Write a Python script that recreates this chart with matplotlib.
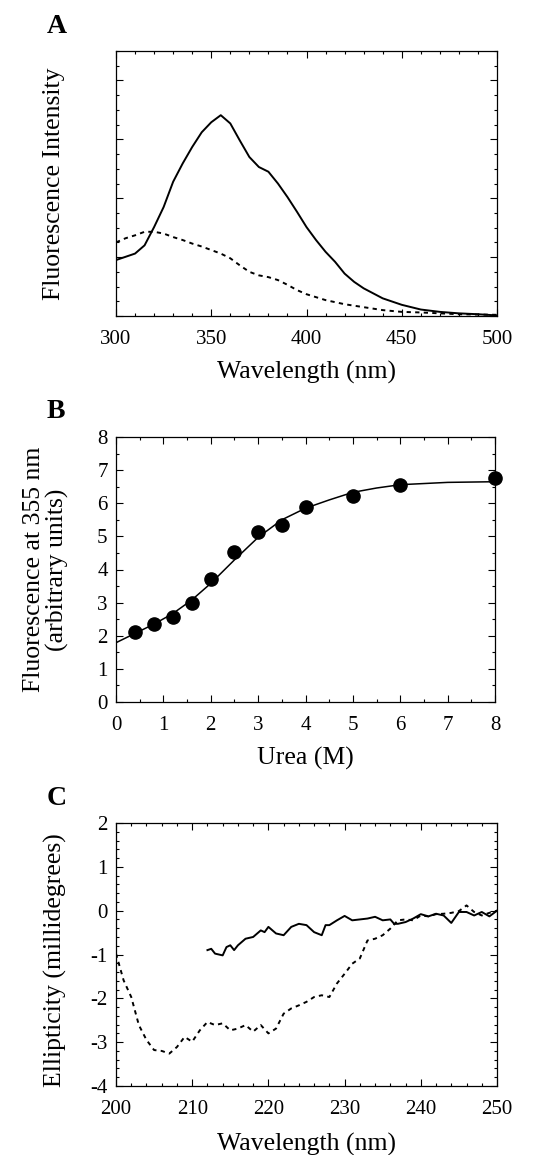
import matplotlib
matplotlib.use("Agg")
import matplotlib.pyplot as plt
from matplotlib.ticker import MultipleLocator

plt.rcParams['font.family'] = ['Liberation Serif', 'DejaVu Serif']
plt.rcParams['mathtext.fontset'] = 'stix'

# ---- panel A: emission spectra ----
a_wl_native = [300, 310, 315, 320, 325, 330, 335, 340, 345, 350, 355, 360, 365, 370,
               375, 380, 385, 390, 395, 400, 405, 410, 415, 420, 425, 430, 440, 450,
               460, 470, 480, 490, 500]
a_native = [0.95, 1.06, 1.2, 1.51, 1.85, 2.28, 2.59, 2.87, 3.12, 3.29, 3.41, 3.27, 2.98,
            2.70, 2.53, 2.45, 2.25, 2.02, 1.77, 1.51, 1.29, 1.09, 0.92, 0.72, 0.58, 0.47,
            0.30, 0.19, 0.11, 0.07, 0.045, 0.03, 0.01]
a_wl_denat = [300, 305, 310, 315, 320, 325, 330, 335, 340, 345, 350, 355, 360, 365, 370,
              375, 380, 385, 390, 395, 400, 410, 420, 430, 440, 450, 460, 470, 480, 500]
a_denat = [1.25, 1.32, 1.37, 1.43, 1.43, 1.40, 1.34, 1.29, 1.23, 1.18, 1.12, 1.06, 0.98,
           0.86, 0.75, 0.69, 0.66, 0.61, 0.53, 0.44, 0.37, 0.27, 0.20, 0.15, 0.10, 0.07,
           0.06, 0.045, 0.03, 0.02]

# ---- panel B: urea titration ----
urea = [0.4, 0.8, 1.2, 1.6, 2.0, 2.5, 3.0, 3.5, 4.0, 5.0, 6.0, 8.0]
fluor = [2.10, 2.35, 2.57, 2.98, 3.71, 4.54, 5.12, 5.33, 5.90, 6.23, 6.54, 6.75]
fit_urea = [0, 0.4, 0.8, 1.2, 1.6, 2.0, 2.5, 3.0, 3.5, 4.0, 4.5, 5.0, 5.5, 6.0, 7.0, 8.0]
fit_fluor = [1.79, 2.07, 2.35, 2.67, 3.08, 3.58, 4.29, 4.97, 5.50, 5.85, 6.10, 6.33, 6.46,
             6.56, 6.63, 6.65]

# ---- panel C: CD spectra ----
c_wl_solid = [212, 212.5, 213, 214, 214.5, 215, 215.5, 216, 217, 218, 219, 219.5, 220, 221,
              222, 223, 224, 225, 226, 227, 227.5, 228, 229, 230, 231, 232, 233, 234, 235,
              236, 236.5, 237, 238, 239, 240, 241, 242, 243, 244, 245, 246, 247, 248, 249, 250]
c_solid = [-0.90, -0.87, -0.98, -1.02, -0.83, -0.79, -0.90, -0.79, -0.64, -0.60, -0.45,
           -0.49, -0.37, -0.52, -0.56, -0.37, -0.30, -0.33, -0.49, -0.56, -0.33, -0.33,
           -0.22, -0.12, -0.22, -0.20, -0.18, -0.14, -0.22, -0.20, -0.30, -0.30, -0.26,
           -0.18, -0.08, -0.13, -0.07, -0.11, -0.28, -0.03, -0.03, -0.11, -0.03, -0.13, 0.0]
c_wl_dot = list(range(200, 251))
c_dot = [-0.98, -1.59, -1.97, -2.61, -2.95, -3.18, -3.20, -3.26, -3.11, -2.88, -2.99,
         -2.73, -2.54, -2.61, -2.57, -2.73, -2.69, -2.61, -2.76, -2.61, -2.80, -2.69,
         -2.35, -2.23, -2.16, -2.08, -1.97, -1.93, -1.97, -1.66, -1.44, -1.21, -1.09,
         -0.68, -0.64, -0.56, -0.41, -0.22, -0.20, -0.22, -0.11, -0.13, -0.08, -0.07,
         -0.05, -0.01, 0.12, -0.03, -0.11, -0.05, 0.0]

fig = plt.figure(figsize=(5.46, 11.55), dpi=100)
W, H = 546, 1155


def make_ax(l, t, r, b):
    return fig.add_axes([l / W, 1 - b / H, (r - l) / W, (b - t) / H])


def style(ax):
    ax.tick_params(which='both', direction='in', top=True, right=True, labelsize=15,
                   width=0.8, colors='black')
    ax.tick_params(which='major', length=5)
    ax.tick_params(which='minor', length=2.5)
    ax.tick_params(axis='x', pad=10)
    ax.tick_params(axis='y', pad=6)
    for s in ax.spines.values():
        s.set_linewidth(0.9)


dot = (0, (2.2, 2.2))
LBL = 18.5

axA = make_ax(116, 51, 497, 316)
axA.plot(a_wl_native, a_native, color='black', lw=1.4)
axA.plot(a_wl_denat, a_denat, color='black', lw=1.4, linestyle=dot)
axA.set_xlim(300, 500)
axA.set_ylim(0, 4.5)
axA.xaxis.set_major_locator(MultipleLocator(50))
axA.xaxis.set_minor_locator(MultipleLocator(10))
axA.yaxis.set_major_locator(MultipleLocator(1))
axA.yaxis.set_minor_locator(MultipleLocator(0.25))
axA.set_yticklabels([])
style(axA)
axA.set_xlabel('Wavelength (nm)', fontsize=LBL)
axA.set_ylabel('Fluorescence Intensity', fontsize=LBL)
axA.xaxis.set_label_coords(0.5, -0.17)
axA.yaxis.set_label_coords(-0.135, 0.5)
fig.text(47 / W, 1 - 33 / H, 'A', fontsize=20, fontweight='bold')

axB = make_ax(116, 437, 495, 702)
axB.plot(fit_urea, fit_fluor, color='black', lw=1.1)
axB.plot(urea, fluor, 'o', color='black', markersize=9.5, clip_on=False)
axB.set_xlim(0, 8)
axB.set_ylim(0, 8)
axB.xaxis.set_major_locator(MultipleLocator(1))
axB.xaxis.set_minor_locator(MultipleLocator(0.5))
axB.yaxis.set_major_locator(MultipleLocator(1))
axB.yaxis.set_minor_locator(MultipleLocator(0.5))
style(axB)
axB.set_xlabel('Urea (M)', fontsize=LBL)
axB.set_ylabel('Fluorescence at 355 nm\n(arbitrary units)', fontsize=LBL, linespacing=1.05)
axB.xaxis.set_label_coords(0.5, -0.17)
axB.yaxis.set_label_coords(-0.125, 0.5)
fig.text(47 / W, 1 - 418 / H, 'B', fontsize=20, fontweight='bold')

axC = make_ax(116, 823, 497, 1086)
axC.plot(c_wl_solid, c_solid, color='black', lw=1.4)
axC.plot(c_wl_dot, c_dot, color='black', lw=1.4, linestyle=dot)
axC.set_xlim(200, 250)
axC.set_ylim(-4, 2)
axC.xaxis.set_major_locator(MultipleLocator(10))
axC.xaxis.set_minor_locator(MultipleLocator(2))
axC.yaxis.set_major_locator(MultipleLocator(1))
axC.yaxis.set_minor_locator(MultipleLocator(0.2))
axC.yaxis.set_major_formatter(plt.FuncFormatter(lambda v, p: '%d' % v))
style(axC)
axC.set_xlabel('Wavelength (nm)', fontsize=LBL)
axC.set_ylabel('Ellipticity (millidegrees)', fontsize=LBL)
axC.xaxis.set_label_coords(0.5, -0.18)
axC.yaxis.set_label_coords(-0.128, 0.48)
fig.text(47 / W, 1 - 805 / H, 'C', fontsize=20, fontweight='bold')

fig.savefig('out.png', dpi=100, facecolor='white')
